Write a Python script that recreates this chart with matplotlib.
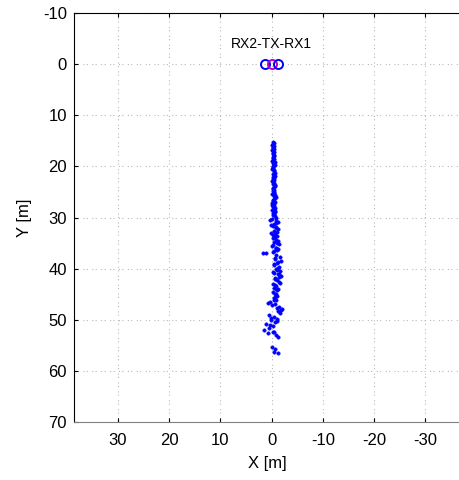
import matplotlib
matplotlib.use('Agg')
import matplotlib.pyplot as plt

plt.rcParams['font.family'] = ['Liberation Sans', 'DejaVu Sans']
plt.rcParams['axes.unicode_minus'] = False

# antenas: RX2, TX, RX1
ant_x = [1.2, 0.0, -1.2]
ant_y = [0.0, 0.0, 0.0]
ant_col = ['blue', 'm', 'blue']
etiqueta = 'RX2-TX-RX1'

# posiciones estimadas (lecturas del grafico)
pos_y = [15.2, 15.6, 16.0, 16.4, 16.8, 17.2, 17.6, 18.0, 18.4, 18.8,
         19.2, 19.6, 20.0, 20.4, 20.8, 21.2, 21.6, 22.0, 22.4, 22.8,
         23.2, 23.6, 24.0, 24.4, 24.8, 25.2, 25.6, 26.0, 26.4, 26.8,
         27.2, 27.6, 28.0, 28.4, 28.8, 29.2, 29.6, 30.0, 30.4, 30.8,
         31.2, 31.5, 31.9, 32.3, 32.6, 33.0, 33.3, 33.7, 34.0, 34.4,
         34.8, 35.1, 35.5, 35.9, 36.2, 36.6, 37.0, 37.3, 37.0, 36.8,
         37.8, 38.2, 38.5, 38.9, 39.3, 39.6, 40.0, 40.4, 40.8, 41.1,
         41.5, 41.9, 42.3, 42.6, 43.0, 43.4, 43.8, 44.2, 44.5, 44.9,
         45.3, 45.7, 46.1, 46.5, 46.8, 47.2, 47.5, 47.9, 48.3, 48.7,
         49.0, 49.4, 49.8, 50.1, 50.5, 50.9, 51.3, 51.7, 52.0, 52.3,
         52.6, 53.0, 53.4, 55.4, 55.8, 56.3, 56.6, 29.0, 32.0, 35.0,
         38.0, 41.0, 44.0, 47.0, 20.2, 24.6, 27.8, 33.5, 39.8, 42.8,
         46.2, 48.0, 49.6, 51.0, 52.4, 31.0, 36.0, 43.2, 45.0, 50.3,
         15.4, 15.8, 16.2, 16.6, 17.0, 17.4, 17.8, 18.2, 18.6, 19.0,
         19.4, 19.8, 20.6, 21.0, 21.4, 21.8, 22.2, 22.6, 23.0, 23.4,
         23.8, 24.2, 25.0, 25.4, 25.8, 26.2, 26.6, 27.0, 27.4, 28.2,
         28.6, 29.4, 29.8, 30.2, 30.6, 31.7, 32.8, 33.9, 34.6, 35.3,
         36.4, 38.7, 39.1, 40.2, 40.6, 41.7, 42.1, 44.0, 45.5, 47.7]
pos_x = [-0.3, -0.2, -0.4, -0.3, -0.1, -0.4, -0.3, -0.5, -0.2, -0.3,
         -0.6, -0.4, -0.2, -0.3, -0.5, -0.7, -0.4, -0.2, -0.3, -0.1,
         -0.4, -0.6, -0.5, -0.3, -0.2, -0.4, -0.6, -0.8, -0.5, -0.3,
         -0.1, 0.0, -0.2, -0.4, -0.6, -0.3, -0.2, -0.8, 0.3, -1.2,
         -0.5, 0.2, -0.9, -1.3, -0.4, 0.1, -0.7, -1.1, -0.2, -0.9,
         -0.5, -1.4, 0.0, -0.8, -1.2, -0.4, 1.6, -0.9, 1.0, -0.3,
         -1.6, -0.7, -1.9, -1.1, -0.5, -1.4, -0.8, -1.7, -0.4, -1.2,
         -1.8, -0.6, -1.0, -1.5, -0.3, -0.9, -0.5, -1.1, -0.2, -0.7,
         -1.0, -0.4, -0.8, 0.3, 0.7, -0.1, -1.5, -2.0, -1.2, -1.7,
         0.6, -0.4, -1.0, 0.2, -0.6, 1.0, -0.2, 0.5, 1.4, -0.3,
         0.8, -0.9, -1.3, -0.1, -0.6, -0.4, -1.2, -0.6, -0.9, -1.1,
         -0.6, -1.4, -0.9, -0.7, -0.2, -0.5, -0.4, -0.2, -1.3, -1.6,
         -0.5, -1.8, 0.1, 0.4, -0.5, -0.9, -0.8, -0.6, -0.9, -1.1,
         -0.5, -0.1, -0.2, -0.5, -0.3, -0.2, -0.5, -0.3, -0.4, -0.1,
         -0.3, -0.6, -0.1, -0.5, -0.2, -0.6, -0.4, -0.5, -0.2, -0.3,
         -0.7, -0.2, -0.5, -0.1, -0.4, -0.6, -0.3, -0.7, -0.5, -0.6,
         -0.1, -0.5, -0.7, -0.1, -0.9, -0.3, -1.0, -0.6, -1.2, -0.3,
         -1.0, -1.3, -0.4, -1.1, -0.3, -1.4, -0.7, -1.3, -0.6, -1.0]

fig = plt.figure(figsize=(4.6, 4.8), dpi=100)
ax = fig.add_axes([74/460, 58/480, 386/460, 409/480])

ax.plot(pos_x, pos_y, 'o', color='blue', markersize=2.5, markeredgewidth=0.3)
for x, y, c in zip(ant_x, ant_y, ant_col):
    ax.plot(x, y, 'o', markerfacecolor='none', markeredgecolor=c,
            markersize=6.5, markeredgewidth=1.4)
ax.text(0, -3.9, etiqueta, ha='center', va='center', fontsize=10)

ax.set_xlim(38.6, -36.8)
ax.set_ylim(70, -10)
ax.set_xticks([30, 20, 10, 0, -10, -20, -30])
ax.set_yticks(range(-10, 71, 10))
ax.grid(True, linestyle=(0, (1, 2, 1, 4)), color='0.72', linewidth=0.8)
ax.tick_params(direction='in', top=True, right=False, labelsize=12,
               length=3, pad=8)
ax.tick_params(axis='y', pad=5)
ax.spines['right'].set_visible(False)
ax.spines['bottom'].set_color('0.5')
ax.set_xlabel('X [m]', fontsize=12, labelpad=6)
ax.set_ylabel('Y [m]', fontsize=12, labelpad=8)

fig.savefig('out.png', dpi=100)
